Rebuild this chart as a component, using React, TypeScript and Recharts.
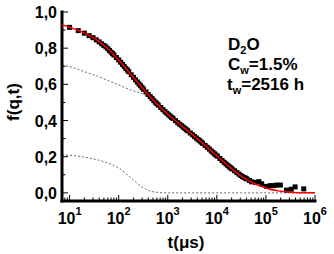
import React from 'react';
import { ComposedChart, Line, Scatter, XAxis, YAxis } from 'recharts';

// measured f(q,t) points (t in µs), multi-tau channel times
const dataT = [
  10, 15, 20, 25, 30, 35, 40, 45, 50, 55, 60, 65, 70, 75,
  80, 90, 100, 110, 120, 130, 140, 150,
  160, 180, 200, 220, 240, 260, 280, 300,
  320, 360, 400, 440, 480, 520, 560, 600,
  640, 720, 800, 880, 960, 1040, 1120, 1200,
  1280, 1440, 1600, 1760, 1920, 2080, 2240, 2400,
  2560, 2880, 3200, 3520, 3840, 4160, 4480, 4800,
  5120, 5760, 6400, 7040, 7680, 8320, 8960, 9600,
  10240, 11520, 12800, 14080, 15360, 16640, 17920, 19200,
  20480, 23040, 25600, 28160, 30720, 33280, 35840, 38400,
  40960, 46080, 51200,
  61440, 71680, 81920, 102400, 122880, 143360, 163840, 196608, 262144, 327680, 393216, 589824,
];
const dataF = [
  0.915, 0.897, 0.883, 0.869, 0.858, 0.846, 0.835, 0.824, 0.815, 0.807, 0.797, 0.787, 0.778, 0.77,
  0.762, 0.748, 0.735, 0.722, 0.71, 0.699, 0.688, 0.679,
  0.67, 0.653, 0.639, 0.625, 0.613, 0.602, 0.592, 0.582,
  0.573, 0.558, 0.544, 0.532, 0.521, 0.51, 0.501, 0.493,
  0.485, 0.472, 0.46, 0.449, 0.44, 0.431, 0.424, 0.417,
  0.411, 0.399, 0.388, 0.379, 0.371, 0.363, 0.356, 0.349,
  0.343, 0.331, 0.321, 0.311, 0.303, 0.295, 0.288, 0.281,
  0.274, 0.262, 0.252, 0.242, 0.232, 0.224, 0.216, 0.209,
  0.203, 0.19, 0.179, 0.169, 0.16, 0.152, 0.144, 0.138,
  0.132, 0.122, 0.112, 0.104, 0.096, 0.09, 0.085, 0.081,
  0.077, 0.069, 0.061,
  0.058, 0.062, 0.05, 0.036, 0.04, 0.04, 0.043, 0.043, 0.015, 0.02, 0.033, 0.022,
];

// fit curve and its two components
const fitT = [
  7, 10, 17.8, 31.6, 56.2, 100, 178, 316, 562, 1000, 1780, 3160, 5620, 10000, 17800, 31600,
  56200, 100000, 178000, 316000, 562000, 1000000,
];
const fitF = [
  0.93, 0.915, 0.89, 0.855, 0.805, 0.735, 0.655, 0.575, 0.5, 0.435, 0.378, 0.322, 0.265, 0.205,
  0.145, 0.093, 0.053, 0.027, 0.011, 0.004, 0.001, 0,
];
const slowF = [
  0.705, 0.698, 0.675, 0.652, 0.625, 0.597, 0.568, 0.545, 0.494, 0.435, 0.378, 0.322, 0.265,
  0.205, 0.145, 0.093, 0.053, 0.027, 0.011, 0.004, 0.001, 0,
];
const fastF = [
  0.21, 0.208, 0.2, 0.187, 0.168, 0.138, 0.083, 0.028, 0.004, 0, 0, 0, 0, 0, 0, 0, 0, 0, 0, 0, 0, 0,
];

const xMajor = [10, 100, 1000, 10000, 100000, 1000000];
const xMinor = [
  8, 9, 20, 30, 40, 50, 60, 70, 80, 90, 200, 300, 400, 500, 600, 700, 800, 900,
  2000, 3000, 4000, 5000, 6000, 7000, 8000, 9000, 20000, 30000, 40000, 50000, 60000, 70000,
  80000, 90000, 200000, 300000, 400000, 500000, 600000, 700000, 800000, 900000,
];
const yTicks = [0, 0.1, 0.2, 0.3, 0.4, 0.5, 0.6, 0.7, 0.8, 0.9, 1.0];

const points = dataT.map((t, i) => ({ t, f: dataF[i] }));
const fit = fitT.map((t, i) => ({ t, f: fitF[i] }));
const slow = fitT.map((t, i) => ({ t, f: slowF[i] }));
const fast = fitT.map((t, i) => ({ t, f: fastF[i] }));
const xTicks = [...xMajor, ...xMinor].sort((a, b) => a - b);

const X_DOMAIN: [number, number] = [7, 1000000];
const Y_DOMAIN: [number, number] = [-0.045, 1];

const font = '"Liberation Sans", Arial, sans-serif';
const frame = { stroke: '#000', strokeWidth: 3, strokeLinecap: 'square' as const };

const isMajorY = (v: number) => Math.round(v * 10) % 2 === 0;

const BottomTick = (p: any) => {
  const v = p.payload.value;
  const major = xMajor.includes(v);
  return (
    <g>
      <line x1={p.x} x2={p.x} y1={p.y} y2={p.y - (major ? 6 : 3.5)} stroke="#000" />
      {major && (
        <text x={p.x} y={p.y + 23} textAnchor="middle" fontFamily={font} fontWeight="bold" fontSize={16} fill="#000">
          10<tspan dy={-9} fontSize={11}>{Math.round(Math.log10(v))}</tspan>
        </text>
      )}
    </g>
  );
};

const TopTick = (p: any) => {
  const major = xMajor.includes(p.payload.value);
  return <line x1={p.x} x2={p.x} y1={p.y} y2={p.y + (major ? 6 : 3.5)} stroke="#000" />;
};

const LeftTick = (p: any) => {
  const v = p.payload.value;
  const major = isMajorY(v);
  return (
    <g>
      <line x1={p.x} x2={p.x + (major ? 6 : 3.5)} y1={p.y} y2={p.y} stroke="#000" />
      {major && (
        <text x={p.x - 5} y={p.y + 6} textAnchor="end" fontFamily={font} fontWeight="bold" fontSize={16} fill="#000">
          {v.toFixed(1).replace('.', ',')}
        </text>
      )}
    </g>
  );
};

const RightTick = (p: any) => {
  const major = isMajorY(p.payload.value);
  return <line x1={p.x} x2={p.x - (major ? 6 : 3.5)} y1={p.y} y2={p.y} stroke="#000" />;
};

const Square = (p: any) => <rect x={p.cx - 2.5} y={p.cy - 2.5} width={5} height={5} fill="#000" />;

export default function App() {
  return (
    <div style={{ position: 'absolute', left: 0, top: 0, width: 334, height: 254, background: '#fff' }}>
      <ComposedChart width={334} height={254} margin={{ top: 12, right: 19, bottom: 0, left: 0 }}>
        <XAxis
          dataKey="t" type="number" scale="log" domain={X_DOMAIN} allowDataOverflow
          ticks={xTicks} interval={0} tickSize={0} tickMargin={0} height={53}
          axisLine={frame} tick={BottomTick}
        />
        <XAxis
          xAxisId="top" orientation="top" dataKey="t" type="number" scale="log" domain={X_DOMAIN}
          allowDataOverflow ticks={xTicks} interval={0} tickSize={0} tickMargin={0} height={0}
          axisLine={frame} tick={TopTick}
        />
        <YAxis
          type="number" domain={Y_DOMAIN} allowDataOverflow ticks={yTicks} interval={0}
          tickSize={0} tickMargin={0} width={62} axisLine={frame} tick={LeftTick}
        />
        <YAxis
          yAxisId="right" orientation="right" type="number" domain={Y_DOMAIN} allowDataOverflow
          ticks={yTicks} interval={0} tickSize={0} tickMargin={0} width={0} axisLine={frame} tick={RightTick}
        />
        <Line data={slow} dataKey="f" type="monotone" stroke="#666" strokeWidth={1} strokeDasharray="2 2" dot={false} isAnimationActive={false} />
        <Line data={fast} dataKey="f" type="monotone" stroke="#666" strokeWidth={1} strokeDasharray="2 2" dot={false} isAnimationActive={false} />
        <Scatter data={points} dataKey="f" shape={Square} isAnimationActive={false} />
      </ComposedChart>
      {/* fit line drawn in a second chart on top so it stays above the squares */}
      <div style={{ position: 'absolute', left: 0, top: 0 }}>
        <ComposedChart width={334} height={254} margin={{ top: 12, right: 19, bottom: 53, left: 62 }}>
          <XAxis dataKey="t" type="number" scale="log" domain={X_DOMAIN} allowDataOverflow hide />
          <YAxis type="number" domain={Y_DOMAIN} allowDataOverflow hide />
          <Line data={fit} dataKey="f" type="monotone" stroke="#ff0000" strokeWidth={1.5} dot={false} isAnimationActive={false} />
        </ComposedChart>
      </div>
      <svg width={334} height={254} style={{ position: 'absolute', left: 0, top: 0, pointerEvents: 'none' }}>
        <g fontFamily={font} fontWeight="bold" fill="#000">
          <text transform="translate(19,102) rotate(-90)" textAnchor="middle" fontSize={17}>f(q,t)</text>
          <text x={186} y={248} textAnchor="middle" fontSize={17}>t(μs)</text>
          <text x={228} y={50} fontSize={17}>D<tspan dy={4} fontSize={11}>2</tspan><tspan dy={-4}>O</tspan></text>
          <text x={228} y={70} fontSize={17}>C<tspan dy={4} fontSize={11}>w</tspan><tspan dy={-4}>=1.5%</tspan></text>
          <text x={227} y={90} fontSize={17}>t<tspan dy={4} fontSize={11}>w</tspan><tspan dy={-4}>=2516 h</tspan></text>
        </g>
      </svg>
    </div>
  );
}
